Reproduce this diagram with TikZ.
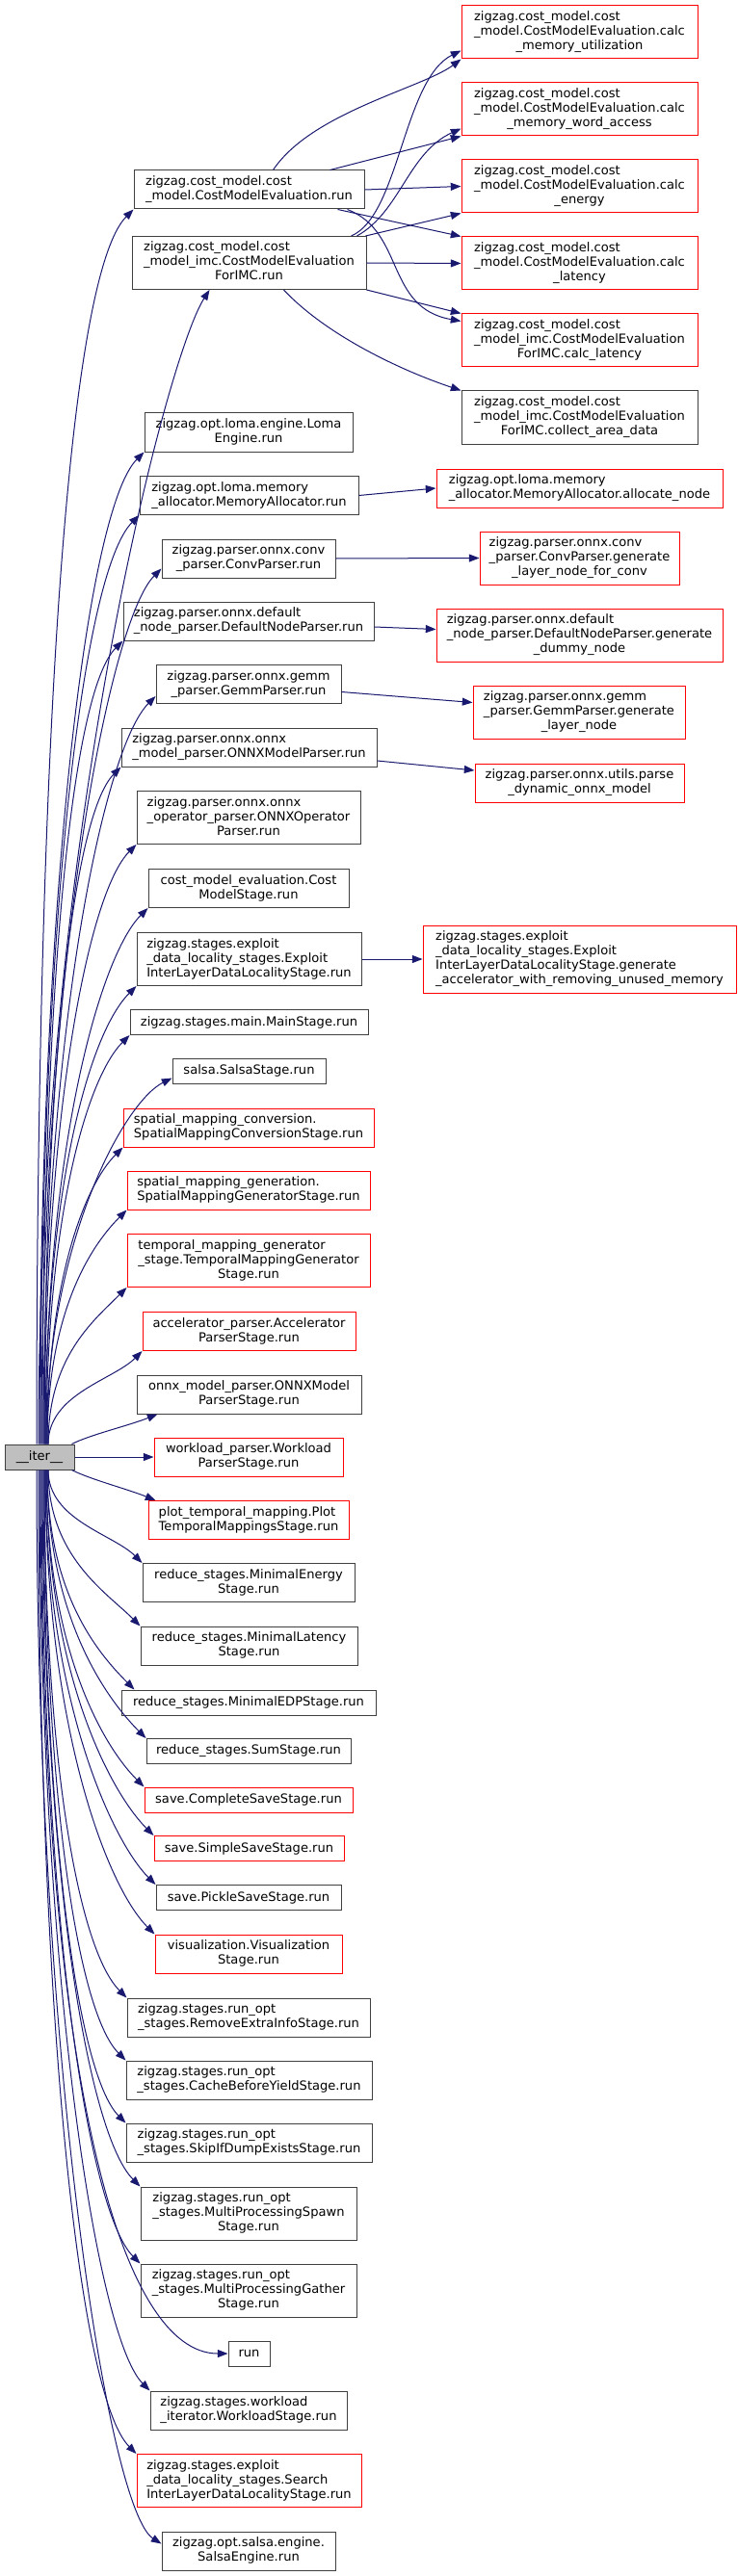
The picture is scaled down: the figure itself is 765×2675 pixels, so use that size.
\documentclass[tikz,border=0pt]{standalone}
\usepackage{fontspec}
\setmainfont{DejaVu Sans}
\usetikzlibrary{arrows.meta}
\definecolor{edgeblue}{RGB}{25,25,112}
\definecolor{boxgray}{RGB}{64,64,64}
\definecolor{rootfill}{RGB}{191,191,191}
\newcommand{\fnlbl}[1]{\begin{tabular}{@{}l@{}}#1\end{tabular}}
\newcommand{\lastln}[1]{\multicolumn{1}{@{}c@{}}{#1}}

\begin{document}
\begin{tikzpicture}[x=0.75pt, y=-0.75pt,
  every node/.style={font=\fontsize{9.8}{11.25}\selectfont},
  fnbox/.style={draw=boxgray, line width=0.75pt, fill=white, inner sep=0pt},
  hotbox/.style={fnbox, draw=red},
  rootbox/.style={fnbox, fill=rootfill},
  sz/.style 2 args={minimum width=#1*0.75pt, minimum height=#2*0.75pt},
  callarr/.style={draw=edgeblue, line width=0.75pt, -{Triangle[length=8pt,width=6pt]}},
]

\fill[white] (0,0) rectangle (765,2675);
\useasboundingbox (0,0) rectangle (765,2675);

%% ── CALLEES OF THE COST MODEL (right) ─────────────────────────────────
\node[hotbox, sz={245}{55}] (calcmemutil) at (601.5,33.5)
  {\fnlbl{zigzag.cost\_model.cost\\\_model.CostModelEvaluation.calc\\\lastln{\_memory\_utilization}}};
\node[hotbox, sz={245}{55}] (calcmemword) at (601.5,113.5)
  {\fnlbl{zigzag.cost\_model.cost\\\_model.CostModelEvaluation.calc\\\lastln{\_memory\_word\_access}}};
\node[hotbox, sz={245}{55}] (calcenergy) at (601.5,193.5)
  {\fnlbl{zigzag.cost\_model.cost\\\_model.CostModelEvaluation.calc\\\lastln{\_energy}}};
\node[hotbox, sz={245}{55}] (calclat) at (601.5,273.5)
  {\fnlbl{zigzag.cost\_model.cost\\\_model.CostModelEvaluation.calc\\\lastln{\_latency}}};
\node[hotbox, sz={245}{55}] (imccalclat) at (601.5,353.5)
  {\fnlbl{zigzag.cost\_model.cost\\\_model\_imc.CostModelEvaluation\\\lastln{ForIMC.calc\_latency}}};
\node[fnbox, sz={245}{55}] (imcarea) at (601.5,433.5)
  {\fnlbl{zigzag.cost\_model.cost\\\_model\_imc.CostModelEvaluation\\\lastln{ForIMC.collect\_area\_data}}};

%% ── OTHER CALLEES (right) ─────────────────────────────────────────────
\node[hotbox, sz={297}{40}] (allocnode) at (601.5,507)
  {\fnlbl{zigzag.opt.loma.memory\\\lastln{\_allocator.MemoryAllocator.allocate\_node}}};
\node[hotbox, sz={207}{55}] (convgen) at (601.5,579.5)
  {\fnlbl{zigzag.parser.onnx.conv\\\_parser.ConvParser.generate\\\lastln{\_layer\_node\_for\_conv}}};
\node[hotbox, sz={297}{55}] (defgen) at (601.5,659.5)
  {\fnlbl{zigzag.parser.onnx.default\\\_node\_parser.DefaultNodeParser.generate\\\lastln{\_dummy\_node}}};
\node[hotbox, sz={220}{55}] (gemmgen) at (601,739.5)
  {\fnlbl{zigzag.parser.onnx.gemm\\\_parser.GemmParser.generate\\\lastln{\_layer\_node}}};
\node[hotbox, sz={217}{40}] (parsedyn) at (601.5,813)
  {\fnlbl{zigzag.parser.onnx.utils.parse\\\lastln{\_dynamic\_onnx\_model}}};
\node[hotbox, sz={325}{70}] (ilgen) at (601.5,996)
  {\fnlbl{zigzag.stages.exploit\\\_data\_locality\_stages.Exploit\\InterLayerDataLocalityStage.generate\\\lastln{\_accelerator\_with\_removing\_unused\_memory}}};

%% ── CALLEES OF __iter__ (middle) ──────────────────────────────────────
\node[fnbox, sz={239}{40}] (cmerun) at (258.5,197)
  {\fnlbl{zigzag.cost\_model.cost\\\lastln{\_model.CostModelEvaluation.run}}};
\node[fnbox, sz={243}{55}] (imcrun) at (258.5,273)
  {\fnlbl{zigzag.cost\_model.cost\\\_model\_imc.CostModelEvaluation\\\lastln{ForIMC.run}}};
\node[fnbox, sz={216}{40}] (lomaeng) at (258,449)
  {\fnlbl{zigzag.opt.loma.engine.Loma\\\lastln{Engine.run}}};
\node[fnbox, sz={227}{40}] (memalloc) at (258.5,514.5)
  {\fnlbl{zigzag.opt.loma.memory\\\lastln{\_allocator.MemoryAllocator.run}}};
\node[fnbox, sz={180}{40}] (convrun) at (258,580)
  {\fnlbl{zigzag.parser.onnx.conv\\\lastln{\_parser.ConvParser.run}}};
\node[fnbox, sz={260}{40}] (defrun) at (258,645)
  {\fnlbl{zigzag.parser.onnx.default\\\lastln{\_node\_parser.DefaultNodeParser.run}}};
\node[fnbox, sz={192}{40}] (gemmrun) at (258,710.5)
  {\fnlbl{zigzag.parser.onnx.gemm\\\lastln{\_parser.GemmParser.run}}};
\node[fnbox, sz={265}{40}] (onnxrun) at (258.5,776)
  {\fnlbl{zigzag.parser.onnx.onnx\\\lastln{\_model\_parser.ONNXModelParser.run}}};
\node[fnbox, sz={232}{55}] (oprun) at (258,849)
  {\fnlbl{zigzag.parser.onnx.onnx\\\_operator\_parser.ONNXOperator\\\lastln{Parser.run}}};
\node[fnbox, sz={208}{40}] (coststage) at (258,922.5)
  {\fnlbl{cost\_model\_evaluation.Cost\\\lastln{ModelStage.run}}};
\node[fnbox, sz={233}{55}] (ilrun) at (258.5,996)
  {\fnlbl{zigzag.stages.exploit\\\_data\_locality\_stages.Exploit\\\lastln{InterLayerDataLocalityStage.run}}};
\node[fnbox, sz={247}{26}] (mainst) at (258.5,1061.5) {zigzag.stages.main.MainStage.run};
\node[fnbox, sz={159}{26}] (salsast) at (258.5,1112) {salsa.SalsaStage.run};
\node[hotbox, sz={260}{40}] (spconv) at (258,1171)
  {\fnlbl{spatial\_mapping\_conversion.\\\lastln{SpatialMappingConversionStage.run}}};
\node[hotbox, sz={252}{40}] (spgen) at (258,1236)
  {\fnlbl{spatial\_mapping\_generation.\\\lastln{SpatialMappingGeneratorStage.run}}};
\node[hotbox, sz={252}{55}] (tmgen) at (258,1309)
  {\fnlbl{temporal\_mapping\_generator\\\_stage.TemporalMappingGenerator\\\lastln{Stage.run}}};
\node[hotbox, sz={221}{40}] (accparse) at (258.5,1382.5)
  {\fnlbl{accelerator\_parser.Accelerator\\\lastln{ParserStage.run}}};
\node[fnbox, sz={233}{40}] (onnxstage) at (258.5,1448)
  {\fnlbl{onnx\_model\_parser.ONNXModel\\\lastln{ParserStage.run}}};
\node[hotbox, sz={196}{40}] (wlparse) at (258,1513)
  {\fnlbl{workload\_parser.Workload\\\lastln{ParserStage.run}}};
\node[hotbox, sz={208}{40}] (plottm) at (258,1578.5)
  {\fnlbl{plot\_temporal\_mapping.Plot\\\lastln{TemporalMappingsStage.run}}};
\node[fnbox, sz={220}{40}] (minen) at (258,1643.5)
  {\fnlbl{reduce\_stages.MinimalEnergy\\\lastln{Stage.run}}};
\node[fnbox, sz={225}{40}] (minlat) at (258.5,1709)
  {\fnlbl{reduce\_stages.MinimalLatency\\\lastln{Stage.run}}};
\node[fnbox, sz={264}{26}] (minedp) at (258,1768) {reduce\_stages.MinimalEDPStage.run};
\node[fnbox, sz={212}{26}] (sumst) at (258,1818.5) {reduce\_stages.SumStage.run};
\node[hotbox, sz={216}{26}] (fullsave) at (258,1869) {save.CompleteSaveStage.run};
\node[hotbox, sz={197}{26}] (simplesave) at (258.5,1919.5) {save.SimpleSaveStage.run};
\node[fnbox, sz={192}{26}] (picklesave) at (258,1970.5) {save.PickleSaveStage.run};
\node[hotbox, sz={194}{40}] (vizst) at (258,2029)
  {\fnlbl{visualization.Visualization\\\lastln{Stage.run}}};
\node[fnbox, sz={252}{40}] (rmextra) at (258,2095)
  {\fnlbl{zigzag.stages.run\_opt\\\lastln{\_stages.RemoveExtraInfoStage.run}}};
\node[fnbox, sz={255}{40}] (cacheyield) at (258.5,2160)
  {\fnlbl{zigzag.stages.run\_opt\\\lastln{\_stages.CacheBeforeYieldStage.run}}};
\node[fnbox, sz={255}{40}] (skipdump) at (258.5,2225)
  {\fnlbl{zigzag.stages.run\_opt\\\lastln{\_stages.SkipIfDumpExistsStage.run}}};
\node[fnbox, sz={224}{55}] (mpspawn) at (258,2298.5)
  {\fnlbl{zigzag.stages.run\_opt\\\_stages.MultiProcessingSpawn\\\lastln{Stage.run}}};
\node[fnbox, sz={224}{55}] (mpgather) at (258,2378.5)
  {\fnlbl{zigzag.stages.run\_opt\\\_stages.MultiProcessingGather\\\lastln{Stage.run}}};
\node[fnbox, sz={43}{26}] (runfn) at (258.5,2444) {run};
\node[fnbox, sz={204}{40}] (wlstage) at (258,2503)
  {\fnlbl{zigzag.stages.workload\\\lastln{\_iterator.WorkloadStage.run}}};
\node[hotbox, sz={233}{55}] (searchil) at (258.5,2576)
  {\fnlbl{zigzag.stages.exploit\\\_data\_locality\_stages.Search\\\lastln{InterLayerDataLocalityStage.run}}};
\node[fnbox, sz={180}{40}] (salsaeng) at (258,2649)
  {\fnlbl{zigzag.opt.salsa.engine.\\\lastln{SalsaEngine.run}}};

%% ── ROOT (left) ───────────────────────────────────────────────────────
\node[rootbox, sz={72}{26}] (iter) at (41,1513) {\_\_iter\_\_};

%% ═════════════════════════════════════════════════════════════════════
%% ARROWS
%% ═════════════════════════════════════════════════════════════════════

%% __iter__ → callees above it
\draw[callarr] ([shift={(-3,0)}]iter.north) .. controls +(0,-700) and +(-70,70) .. (cmerun.south west);
\draw[callarr] ([shift={(-1,0)}]iter.north) .. controls +(0,-620) and +(-45,70) .. ([shift={(81,0)}]imcrun.south west);
\draw[callarr] (iter.north) .. controls +(0,-560) and +(-60,60) .. (lomaeng.south west);
\draw[callarr] ([shift={(1,0)}]iter.north) .. controls +(0,-530) and +(-60,60) .. (memalloc.south west);
\draw[callarr] ([shift={(2,0)}]iter.north) .. controls +(0,-490) and +(-55,55) .. ([shift={(0,-10)}]convrun.south west);
\draw[callarr] ([shift={(3,0)}]iter.north) .. controls +(0,-455) and +(-55,55) .. (defrun.south west);
\draw[callarr] ([shift={(4,0)}]iter.north) .. controls +(0,-420) and +(-55,55) .. ([shift={(0,-8)}]gemmrun.south west);
\draw[callarr] ([shift={(5,0)}]iter.north) .. controls +(0,-385) and +(-50,50) .. (onnxrun.south west);
\draw[callarr] ([shift={(5,0)}]iter.north) .. controls +(0,-340) and +(-50,50) .. (oprun.south west);
\draw[callarr] ([shift={(6,0)}]iter.north) .. controls +(0,-305) and +(-50,50) .. (coststage.south west);
\draw[callarr] ([shift={(6,0)}]iter.north) .. controls +(0,-260) and +(-50,50) .. (ilrun.south west);
\draw[callarr] ([shift={(7,0)}]iter.north) .. controls +(0,-232) and +(-45,45) .. (mainst.south west);
\draw[callarr] ([shift={(7,0)}]iter.north) .. controls +(0,-208) and +(-50,25) .. ([shift={(0,-6)}]salsast.south west);
\draw[callarr] ([shift={(8,0)}]iter.north) .. controls +(0,-168) and +(-40,40) .. (spconv.south west);
\draw[callarr] ([shift={(8,0)}]iter.north) .. controls +(0,-133) and +(-40,40) .. (spgen.south west);
\draw[callarr] ([shift={(9,0)}]iter.north) .. controls +(0,-90) and +(-35,35) .. (tmgen.south west);
\draw[callarr] ([shift={(9,0)}]iter.north) .. controls +(0,-52) and +(-30,30) .. (accparse.south west);
\draw[callarr] ([shift={(-3,0)}]iter.north east) .. controls +(20,-10) and +(-30,12) .. ([shift={(22,0)}]onnxstage.south west);

%% __iter__ → callee on its level
\draw[callarr] (iter.east) -- (wlparse.west);

%% __iter__ → callees below it
\draw[callarr] ([shift={(-3,0)}]iter.south east) .. controls +(20,10) and +(-30,-12) .. ([shift={(8,0)}]plottm.north west);
\draw[callarr] ([shift={(9,0)}]iter.south) .. controls +(0,52) and +(-30,-30) .. (minen.north west);
\draw[callarr] ([shift={(9,0)}]iter.south) .. controls +(0,90) and +(-35,-35) .. (minlat.north west);
\draw[callarr] ([shift={(8,0)}]iter.south) .. controls +(0,126) and +(-40,-40) .. ([shift={(14,0)}]minedp.north west);
\draw[callarr] ([shift={(8,0)}]iter.south) .. controls +(0,154) and +(-40,-40) .. (sumst.north west);
\draw[callarr] ([shift={(7,0)}]iter.south) .. controls +(0,181) and +(-45,-45) .. (fullsave.north west);
\draw[callarr] ([shift={(7,0)}]iter.south) .. controls +(0,210) and +(-45,-45) .. (simplesave.north west);
\draw[callarr] ([shift={(6,0)}]iter.south) .. controls +(0,238) and +(-45,-45) .. (picklesave.north west);
\draw[callarr] ([shift={(6,0)}]iter.south) .. controls +(0,265) and +(-50,-50) .. (vizst.north west);
\draw[callarr] ([shift={(5,0)}]iter.south) .. controls +(0,302) and +(-50,-50) .. (rmextra.north west);
\draw[callarr] ([shift={(5,0)}]iter.south) .. controls +(0,338) and +(-50,-50) .. (cacheyield.north west);
\draw[callarr] ([shift={(4,0)}]iter.south) .. controls +(0,373) and +(-50,-50) .. (skipdump.north west);
\draw[callarr] ([shift={(3,0)}]iter.south) .. controls +(0,410) and +(-55,-55) .. (mpspawn.north west);
\draw[callarr] ([shift={(2,0)}]iter.south) .. controls +(0,454) and +(-55,-55) .. (mpgather.north west);
\draw[callarr] ([shift={(1,0)}]iter.south) .. controls +(0,640) and +(-110,0) .. (runfn.west);
\draw[callarr] (iter.south) .. controls +(0,526) and +(-55,-55) .. (wlstage.north west);
\draw[callarr] ([shift={(-1,0)}]iter.south) .. controls +(0,563) and +(-60,-60) .. (searchil.north west);
\draw[callarr] ([shift={(-3,0)}]iter.south) .. controls +(0,614) and +(-55,-35) .. ([shift={(0,13)}]salsaeng.north west);

%% CostModelEvaluation.run → calc_*
\draw[callarr] ([shift={(25,0)}]cmerun.north) .. controls +(40,-60) and +(-40,30) .. (calcmemutil.south west);
\draw[callarr] ([shift={(84,0)}]cmerun.north) -- (calcmemword.south west);
\draw[callarr] (cmerun.east) -- (calcenergy.west);
\draw[callarr] ([shift={(92,0)}]cmerun.south) -- (calclat.north west);
\draw[callarr] ([shift={(102,0)}]cmerun.south) .. controls +(60,23) and +(-79,-14) .. ([shift={(0,8)}]imccalclat.north west);

%% CostModelEvaluationForIMC.run → calc_* / collect_area_data
\draw[callarr] ([shift={(106,0)}]imcrun.north) .. controls +(50,-21) and +(-60,30) .. ([shift={(0,-9)}]calcmemutil.south west);
\draw[callarr] ([shift={(112,0)}]imcrun.north) .. controls +(45,-25) and +(-55,25) .. ([shift={(0,-8)}]calcmemword.south west);
\draw[callarr] ([shift={(121,0)}]imcrun.north) -- (calcenergy.south west);
\draw[callarr] (imcrun.east) -- (calclat.west);
\draw[callarr] (imcrun.south east) -- (imccalclat.north west);
\draw[callarr] ([shift={(36,0)}]imcrun.south) .. controls +(45,48) and +(-60,-20) .. (imcarea.north west);

%% parsers / stages → their helpers
\draw[callarr] (memalloc.east) -- (allocnode.west);
\draw[callarr] (convrun.east) -- (convgen.west);
\draw[callarr] ([shift={(0,6)}]defrun.east) -- ([shift={(0,-6)}]defgen.west);
\draw[callarr] ([shift={(0,8)}]gemmrun.east) -- ([shift={(0,-10)}]gemmgen.west);
\draw[callarr] ([shift={(0,14)}]onnxrun.east) -- ([shift={(0,-13)}]parsedyn.west);
\draw[callarr] (ilrun.east) -- (ilgen.west);

\end{tikzpicture}
\end{document}
